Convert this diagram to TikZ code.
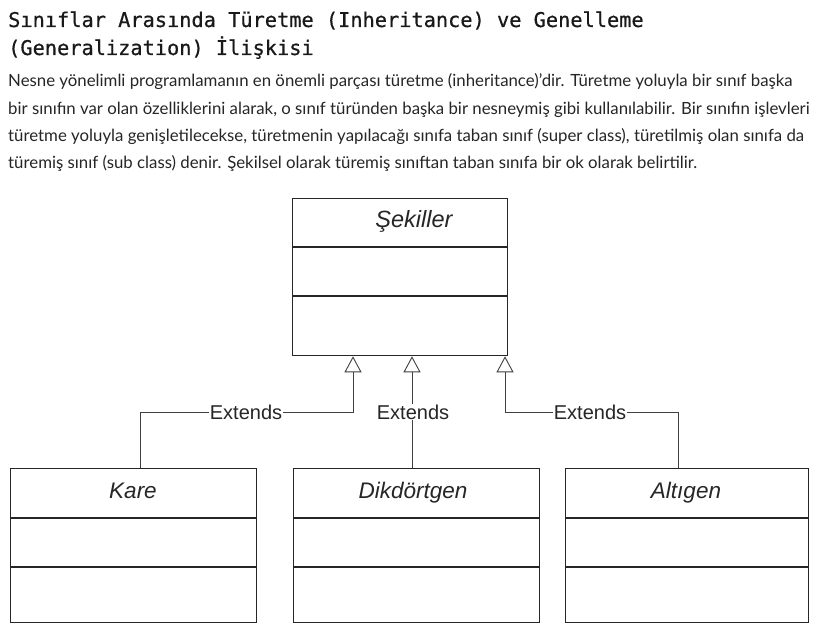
\documentclass[tikz,border=0pt]{standalone}
\usepackage{fontspec}
\setmainfont{Lato}
\newfontfamily\titlefont[FakeBold=0.6]{DejaVu Sans Mono}
\newfontfamily\umlfont{Liberation Sans}
\usetikzlibrary{arrows.meta}
\begin{document}
\begin{tikzpicture}[x=1pt,y=-1pt,
  classbox/.style={draw=black!85,line width=1.3pt,minimum width=#1,minimum height=154pt,anchor=north west,inner sep=0pt},
  classname/.style={font=\umlfont\itshape\fontsize{22.5}{26}\selectfont,text=black!85,anchor=base,inner sep=0pt},
  ext/.style={font=\umlfont\fontsize{20}{23}\selectfont,fill=white,inner sep=0.5pt,text=black!85,anchor=base},
  conn/.style={draw=black!75,line width=0.9pt},
  inh/.style={conn,-{Triangle[open,length=16pt,width=17pt,line width=0.9pt]}},
  para/.style={anchor=base west,inner sep=0pt,font=\fontsize{16.8}{20}\selectfont,text=black!85},
  ttl/.style={anchor=base west,inner sep=0pt,font=\titlefont\fontsize{20.3}{24}\selectfont,text=black!90}]
\useasboundingbox (0,0) rectangle (824,639);
\fill[white] (0,0) rectangle (824,639);
% title
\node[ttl] (t1) at (8,27) {Sınıflar Arasında Türetme (Inheritance) ve Genelleme};
\node[ttl] (t2) at (8,55) {(Generalization) İlişkisi};
% paragraph
\node[para] (p1) at (8,87) {Nesne yönelimli programlamanın en önemli parçası türetme (inheritance)'dir. Türetme yoluyla bir sınıf başka};
\node[para] (p2) at (8,115) {bir sınıfın var olan özelliklerini alarak, o sınıf türünden başka bir nesneymiş gibi kullanılabilir. Bir sınıfın işlevleri};
\node[para] (p3) at (8,142) {türetme yoluyla genişletilecekse, türetmenin yapılacağı sınıfa taban sınıf (super class), türetilmiş olan sınıfa da};
\node[para] (p4) at (8,169) {türemiş sınıf (sub class) denir. Şekilsel olarak türemiş sınıftan taban sınıfa bir ok olarak belirtilir.};
% classes
\node[classbox=215pt,minimum height=157pt] (sek) at (292,198) {};
\draw[draw=black!85,line width=1.3pt] (292,247) -- (507,247) (292,296) -- (507,296);
\node[classname,font=\umlfont\itshape\fontsize{23.5}{27}\selectfont] (sekn) at (414,227) {Şekiller};

\node[classbox=246pt] (kare) at (10,468) {};
\draw[draw=black!85,line width=1.3pt] (10,518) -- (256,518) (10,567) -- (256,567);
\node[classname] (karen) at (133,498) {Kare};

\node[classbox=246pt] (dik) at (293,468) {};
\draw[draw=black!85,line width=1.3pt] (293,518) -- (539,518) (293,567) -- (539,567);
\node[classname] (dikn) at (413,498) {Dikdörtgen};

\node[classbox=243pt] (alt) at (565,468) {};
\draw[draw=black!85,line width=1.3pt] (565,518) -- (808,518) (565,567) -- (808,567);
\node[classname] (altn) at (686,498) {Altıgen};

% connectors
\coordinate (k0) at (140,468);
\coordinate (a0) at (678,468);
\draw[inh] (k0) |- (353,412) -- (sek.south -| 353,0);
\draw[inh] (dik.north -| 412,0) -- (sek.south -| 412,0);
\draw[inh] (a0) |- (505,412) -- (sek.south -| 505,0);
\node[ext] (e1) at (246,419) {Extends};
\node[ext] (e2) at (413,419) {Extends};
\node[ext] (e3) at (590,419) {Extends};
\end{tikzpicture}
\end{document}
